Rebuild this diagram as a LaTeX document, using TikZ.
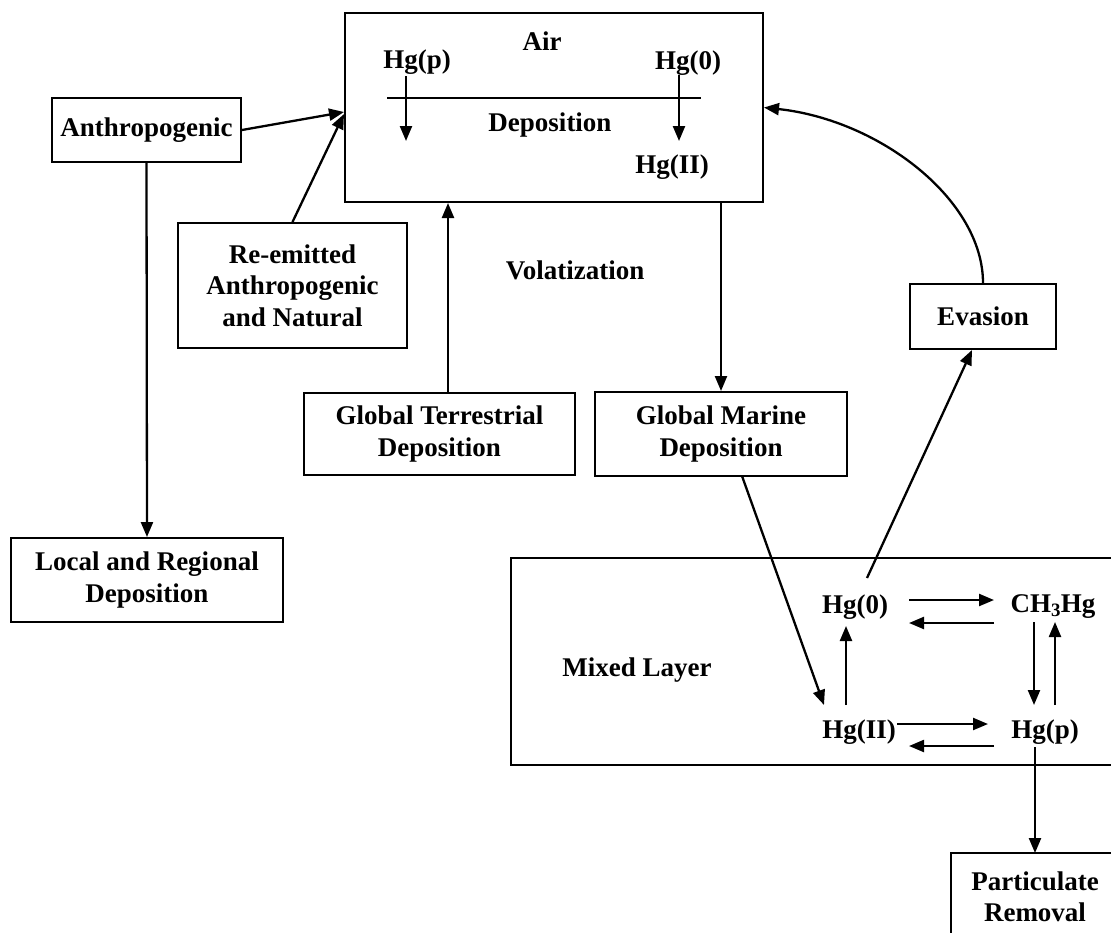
\documentclass[tikz,border=0pt]{standalone}
\usepackage{fontspec}
\setmainfont{Liberation Serif}
\usetikzlibrary{arrows.meta}
\begin{document}
\begin{tikzpicture}[x=1pt,y=-1pt,
  font=\fontsize{27}{31.5}\selectfont\bfseries,
  box/.style={draw, line width=2pt, inner sep=0pt, align=center},
  lbl/.style={inner sep=0pt, align=center},
  ln/.style={line width=2.3pt},
  arr/.style={line width=2.3pt, -{Triangle[length=15pt,width=12pt]}}]
\useasboundingbox (0,0) rectangle (1111,932);
\clip (0,0) rectangle (1111,932);
% boxes
\node[box, minimum width=418pt, minimum height=189pt] (air) at (554,107.5) {};
\node[box, minimum width=189pt, minimum height=64pt] (anthro) at (146.5,130) {Anthropogenic};
\node[box, minimum width=229pt, minimum height=125pt] (reem) at (292.5,285.5) {Re-emitted\\Anthropogenic\\and Natural};
\node[box, minimum width=271pt, minimum height=82pt] (gterr) at (439.5,434) {Global Terrestrial\\Deposition};
\node[box, minimum width=252pt, minimum height=84pt] (gmar) at (721,434) {Global Marine\\Deposition};
\node[box, minimum width=146pt, minimum height=65pt] (evas) at (983,316.5) {Evasion};
\node[box, minimum width=272pt, minimum height=84pt] (local) at (147,580) {Local and Regional\\Deposition};
\node[box, minimum width=620pt, minimum height=207pt] (mixed) at (821,661.5) {};
\node[box, minimum width=180pt, minimum height=100pt] (partic) at (1041,903) {};
\node[lbl] (partictxt) at (1035,897) {Particulate\\Removal};
% air labels
\node[lbl] (airlbl) at (542,41) {Air};
\node[lbl] (ahgp) at (417,62) {Hg(p)};
\node[lbl] (ahg0) at (688,63) {Hg(0)};
\node[lbl] (adep) at (550,125) {Deposition};
\node[lbl] (ahg2) at (672,167) {Hg(II)};
\node[lbl] (vol) at (575,270) {Volatization};
% mixed layer labels
\node[lbl] (mlbl) at (637,670) {Mixed Layer};
\node[lbl] (m0) at (855,607) {Hg(0)};
\node[lbl] (mch) at (1053,607) {CH\textsubscript{3}Hg};
\node[lbl] (m2) at (859,732) {Hg(II)};
\node[lbl] (mp) at (1045,732) {Hg(p)};
% coordinates
\coordinate (hl1) at (387,98);
\coordinate (hl2) at (701,98);
\coordinate (pa) at (406,76);
\coordinate (pb) at (406,141);
\coordinate (za) at (679,75);
\coordinate (zb) at (679,141);
\coordinate (airin1) at (344,112);
\coordinate (airin2) at (344,114);
\coordinate (marout) at (742,476);
\coordinate (m2in) at (824,705);
\coordinate (m0out) at (867,578);
\coordinate (evin) at (972,350);
\coordinate (r1a) at (909,600);
\coordinate (r1b) at (994,600);
\coordinate (r2a) at (994,623);
\coordinate (r2b) at (909,623);
\coordinate (r3a) at (897,724);
\coordinate (r3b) at (988,724);
\coordinate (r4a) at (994,746);
\coordinate (r4b) at (909,746);
\coordinate (v1a) at (846,705);
\coordinate (v1b) at (846,626);
\coordinate (v2a) at (1034,622);
\coordinate (v2b) at (1034,705);
\coordinate (v3a) at (1055,705);
\coordinate (v3b) at (1055,622);
\coordinate (pout) at (1035,747);
\coordinate (pin) at (1035,853);
% connectors in air box
\draw[ln] (hl1) -- (hl2);
\draw[arr] (pa) -- (pb);
\draw[arr] (za) -- (zb);
% main connectors
\draw[arr] (anthro.east) -- (airin1);
\draw[arr] (reem.north) -- (airin2);
\draw[arr] (anthro.south) -- (local.north);
\draw[arr] ([xshift=8.5pt]gterr.north) -- ([xshift=8.5pt]gterr.north |- air.south);
\draw[arr] (air.south -| gmar.north) -- (gmar.north);
\draw[arr] (evas.north) .. controls (983,200) and (880,120) .. (air.east);
\draw[arr] (m0out) -- (evin);
\draw[arr] (marout) -- (m2in);
% mixed layer reactions
\draw[arr] (r1a) -- (r1b);
\draw[arr] (r2a) -- (r2b);
\draw[arr] (r3a) -- (r3b);
\draw[arr] (r4a) -- (r4b);
\draw[arr] (v1a) -- (v1b);
\draw[arr] (v2a) -- (v2b);
\draw[arr] (v3a) -- (v3b);
\draw[arr] (pout) -- (pin);
\end{tikzpicture}
\end{document}
